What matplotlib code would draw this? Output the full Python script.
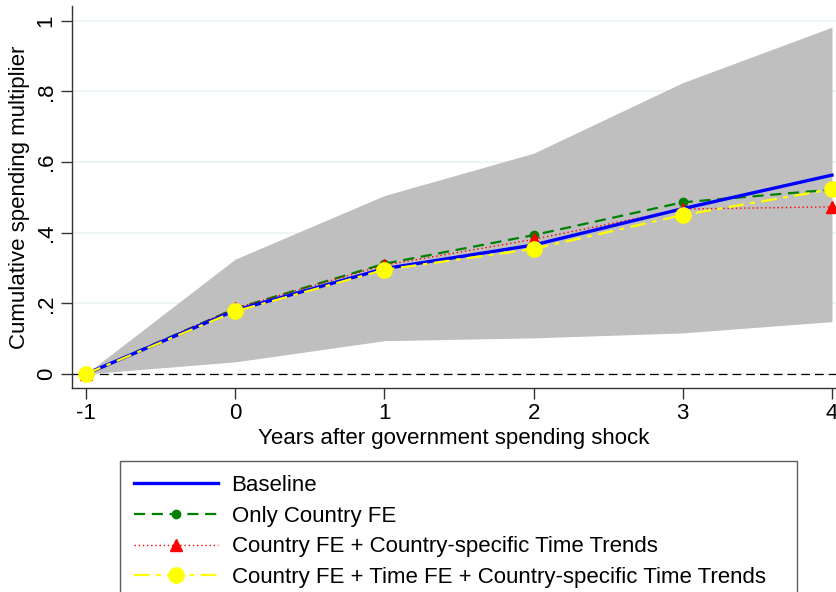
import matplotlib
matplotlib.use("Agg")
import matplotlib.pyplot as plt

plt.rcParams['font.family'] = ['Liberation Sans', 'DejaVu Sans']

# data
years = [-1, 0, 1, 2, 3, 4]
xticklabels = ['-1', '0', '1', '2', '3', '4']
ci_upper = [0.0, 0.325, 0.505, 0.625, 0.825, 0.982]
ci_lower = [0.0, 0.034, 0.094, 0.102, 0.116, 0.148]
baseline = [0.0, 0.180, 0.298, 0.365, 0.468, 0.563]
only_country_fe = [0.0, 0.185, 0.312, 0.393, 0.486, 0.522]
country_trends = [0.0, 0.186, 0.308, 0.381, 0.467, 0.473]
country_time_trends = [0.0, 0.177, 0.295, 0.354, 0.450, 0.523]

yticks = [0, 0.2, 0.4, 0.6, 0.8, 1]
yticklabels = ['0', '.2', '.4', '.6', '.8', '1']

fig = plt.figure(figsize=(8.36, 5.92), dpi=100)
ax = fig.add_axes([72 / 836, 1 - 388 / 592, 1 - 72 / 836, (388 - 6) / 592])

ax.fill_between(years, ci_lower, ci_upper, color='#bfbfbf', linewidth=0, zorder=1)
for y in yticks:
    ax.axhline(y, color='#eaf2f3', linewidth=1.2, zorder=0)
ax.axhline(0, color='black', linewidth=0.9, linestyle=(0, (7, 4)), zorder=2)

ax.plot(years, baseline, color='#0000ff', linewidth=2.4, label='Baseline', zorder=5)
ax.plot(years, only_country_fe, color='#008000', linewidth=1.6, linestyle=(0, (5, 3)),
        marker='o', markersize=6, label='Only Country FE', zorder=4)
ax.plot(years, country_trends, color='#ff0000', linewidth=1.0, linestyle=(0, (1, 2)),
        marker='^', markersize=9, label='Country FE + Country-specific Time Trends', zorder=4)
ax.plot(years, country_time_trends, color='#ffff00', linewidth=1.6,
        linestyle=(0, (7, 3, 2, 3)), marker='o', markersize=11,
        label='Country FE + Time FE + Country-specific Time Trends', zorder=6)

ax.set_xlim(-1.094, 4.027)
ax.set_ylim(-0.040, 1.042)
ax.set_xticks(years)
ax.set_xticklabels(xticklabels)
ax.set_yticks(yticks)
ax.set_yticklabels(yticklabels, rotation=90, va='center')
ax.tick_params(axis='both', labelsize=16, length=8, width=1, color='#333333', direction='out')
ax.tick_params(axis='y', pad=3)
ax.tick_params(axis='x', pad=3)
for side in ['top', 'right']:
    ax.spines[side].set_visible(False)
for side in ['left', 'bottom']:
    ax.spines[side].set_color('#333333')
    ax.spines[side].set_linewidth(1)

ax.set_xlabel('Years after government spending shock', fontsize=16, labelpad=3)
ax.set_ylabel('Cumulative spending multiplier', fontsize=16, labelpad=4)

leg = fig.legend(loc='upper left', bbox_to_anchor=(120 / 836, 1 - 461 / 592 - 0.01, 677 / 836, 0.01),
                 mode='expand', fontsize=16, frameon=True, fancybox=False,
                 handlelength=3.8, handletextpad=0.6, labelspacing=0.44,
                 borderpad=0.62, borderaxespad=0)
leg.get_frame().set_edgecolor('#333333')
leg.get_frame().set_linewidth(1)

fig.savefig('out.png', dpi=100)
